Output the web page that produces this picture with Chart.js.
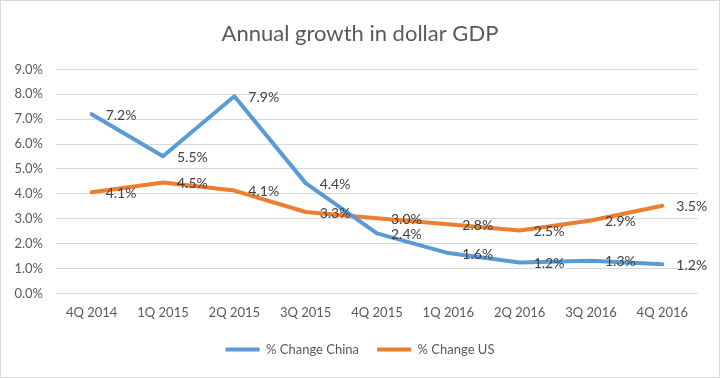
<!DOCTYPE html>
<html>
<head>
<meta charset="utf-8">
<script src="https://cdn.jsdelivr.net/npm/chart.js@4"></script>
<style>
html,body{margin:0;padding:0;background:#fff;}
#wrap{width:720px;height:378px;position:relative;}
</style>
</head>
<body>
<div id="wrap"><canvas id="c" width="720" height="378"></canvas></div>
<script>
const categories = ['4Q 2014','1Q 2015','2Q 2015','3Q 2015','4Q 2015','1Q 2016','2Q 2016','3Q 2016','4Q 2016'];
const chinaValues = [7.2, 5.51, 7.92, 4.43, 2.41, 1.62, 1.24, 1.31, 1.17];
const usValues = [4.06, 4.46, 4.13, 3.27, 3.02, 2.78, 2.53, 2.93, 3.52];
const yTicks = [0,1,2,3,4,5,6,7,8,9];
const seriesNames = ['% Change China', '% Change US'];
const FONT = 'Lato, "Open Sans", sans-serif';

const borderPlugin = {
  id: 'frame',
  beforeDraw(chart) {
    const ctx = chart.ctx;
    ctx.save();
    ctx.fillStyle = '#ffffff';
    ctx.fillRect(0, 0, chart.width, chart.height);
    ctx.strokeStyle = '#d9d9d9';
    ctx.lineWidth = 1;
    ctx.strokeRect(0.5, 0.5, chart.width - 1, chart.height - 1);
    ctx.restore();
  }
};

const labelPlugin = {
  id: 'dataLabels',
  afterDatasetsDraw(chart) {
    const ctx = chart.ctx;
    ctx.save();
    ctx.font = '14px ' + FONT;
    ctx.fillStyle = '#404040';
    ctx.textAlign = 'left';
    ctx.textBaseline = 'middle';
    chart.data.datasets.forEach((ds, i) => {
      const meta = chart.getDatasetMeta(i);
      meta.data.forEach((pt, j) => {
        ctx.fillText(ds.data[j].toFixed(1) + '%', pt.x + 14, pt.y + 1);
      });
    });
    ctx.restore();
  }
};

new Chart(document.getElementById('c'), {
  type: 'line',
  data: {
    labels: categories,
    datasets: [
      { label: seriesNames[0], data: chinaValues, borderColor: '#5B9BD5', backgroundColor: '#5B9BD5', borderWidth: 4, pointRadius: 0, tension: 0, borderCapStyle: 'round', borderJoinStyle: 'round', yAxisID: 'y' },
      { label: seriesNames[1], data: usValues, borderColor: '#ED7D31', backgroundColor: '#ED7D31', borderWidth: 4, pointRadius: 0, tension: 0, borderCapStyle: 'round', borderJoinStyle: 'round', yAxisID: 'y' }
    ]
  },
  options: {
    responsive: false,
    animation: false,
    layout: { padding: { left: 0, right: 0, top: 0, bottom: 12 } },
    plugins: {
      tooltip: { enabled: false },
      title: {
        display: true,
        text: 'Annual growth in dollar GDP',
        color: '#595959',
        font: { family: FONT, size: 22, weight: 'normal' },
        padding: { top: 21, bottom: 22 }
      },
      legend: {
        position: 'bottom',
        labels: {
          color: '#595959',
          font: { family: FONT, size: 13 },
          boxWidth: 34,
          boxHeight: 4,
          padding: 18,
          generateLabels(chart) {
            return chart.data.datasets.map((ds, i) => ({
              text: ds.label, fillStyle: ds.borderColor, strokeStyle: ds.borderColor,
              lineWidth: 0, hidden: false, datasetIndex: i, fontColor: '#595959'
            }));
          }
        }
      }
    },
    scales: {
      x: {
        offset: true,
        grid: { display: false },
        border: { display: false },
        ticks: { color: '#595959', font: { family: FONT, size: 13 }, padding: 4, maxRotation: 0 }
      },
      y: {
        min: 0, max: 9,
        afterFit(scale) { scale.width = 56; },
        afterBuildTicks(scale) { scale.ticks = yTicks.map(v => ({ value: v })); },
        grid: { color: '#d9d9d9', lineWidth: 1, drawTicks: false },
        border: { display: false },
        ticks: { color: '#595959', font: { family: FONT, size: 13 }, padding: 13, callback: v => v.toFixed(1) + '%' }
      },
      yRight: {
        position: 'right',
        min: 0, max: 9,
        afterFit(scale) { scale.width = 22; },
        grid: { display: false, drawTicks: false },
        border: { display: false },
        ticks: { display: false }
      }
    }
  },
  plugins: [borderPlugin, labelPlugin]
});
</script>
</body>
</html>
